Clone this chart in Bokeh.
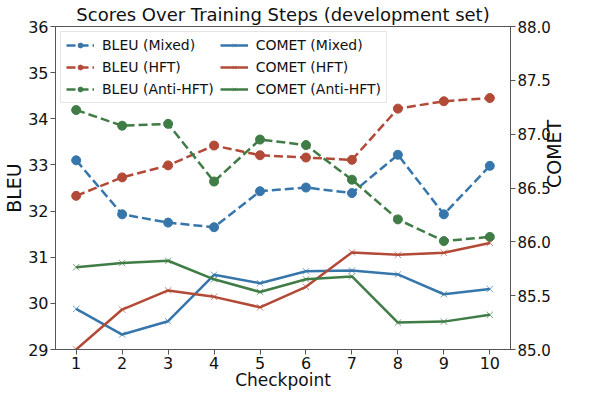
import math
from bokeh.plotting import figure
from bokeh.models import LinearAxis, Range1d, FixedTicker, NumeralTickFormatter, Legend, LegendItem
from bokeh.embed import file_html
from bokeh.resources import INLINE

checkpoints = [1, 2, 3, 4, 5, 6, 7, 8, 9, 10]

bleu_mixed = [33.10, 31.93, 31.75, 31.65, 32.43, 32.51, 32.39, 33.22, 31.93, 32.98]
bleu_hft = [32.33, 32.73, 32.99, 33.42, 33.21, 33.16, 33.11, 34.22, 34.38, 34.45]
bleu_anti = [34.19, 33.85, 33.89, 32.64, 33.55, 33.43, 32.68, 31.82, 31.35, 31.44]

comet_mixed = [85.377, 85.139, 85.263, 85.694, 85.616, 85.727, 85.733, 85.697, 85.513, 85.562]
comet_hft = [85.000, 85.371, 85.549, 85.489, 85.392, 85.582, 85.902, 85.879, 85.899, 85.990]
comet_anti = [85.764, 85.803, 85.824, 85.652, 85.534, 85.652, 85.679, 85.250, 85.259, 85.322]

bleu_ticks = [29, 30, 31, 32, 33, 34, 35, 36]
comet_ticks = [85.0, 85.5, 86.0, 86.5, 87.0, 87.5, 88.0]

blue = "#3776ab"
red = "#b24a37"
green = "#3f7c46"
axis_col = "#555555"
font = "DejaVu Sans"

p = figure(width=578, height=392, output_backend="svg", toolbar_location=None,
           x_range=Range1d(0.55, 10.45), y_range=Range1d(29, 36),
           title="Scores Over Training Steps (development set)",
           min_border_left=0, min_border_right=0, min_border_top=0, min_border_bottom=0)
p.extra_y_ranges = {"comet": Range1d(85, 88)}

p.title.align = "center"
p.title.text_font = font
p.title.text_font_size = "18px"
p.title.text_font_style = "normal"
p.title.text_color = "#111111"
p.title.standoff = 3

p.xgrid.visible = False
p.ygrid.visible = False
p.outline_line_color = axis_col
p.outline_line_width = 1

right = LinearAxis(y_range_name="comet", axis_label="COMET")
p.add_layout(right, "right")

for ax in [p.xaxis[0], p.yaxis[0], right]:
    ax.axis_line_color = axis_col
    ax.major_tick_line_color = axis_col
    ax.major_tick_out = 5
    ax.major_tick_in = 0
    ax.minor_tick_line_color = None
    ax.major_label_text_font = font
    ax.major_label_text_font_size = "16px"
    ax.major_label_text_color = "#111111"
    ax.axis_label_text_font = font
    ax.axis_label_text_font_size = "19px"
    ax.axis_label_text_font_style = "normal"
    ax.axis_label_text_color = "#111111"
    ax.major_label_standoff = 2
    ax.axis_label_standoff = 0

p.xaxis.axis_label = "Checkpoint"
p.xaxis.axis_label_text_font_size = "17px"
p.xaxis.axis_label_standoff = -2
p.xaxis.ticker = FixedTicker(ticks=checkpoints)
p.yaxis[0].axis_label = "BLEU"
p.yaxis[0].ticker = FixedTicker(ticks=bleu_ticks)
right.ticker = FixedTicker(ticks=comet_ticks)
right.formatter = NumeralTickFormatter(format="0.0")
right.major_label_text_font_size = "15px"
right.axis_label_orientation = math.pi / 2

items = []
for name, vals, col in [("Mixed", bleu_mixed, blue), ("HFT", bleu_hft, red), ("Anti-HFT", bleu_anti, green)]:
    l = p.line(checkpoints, vals, line_color=col, line_width=2.5, line_dash="9 4")
    s = p.scatter(checkpoints, vals, marker="circle", size=9, fill_color=col, line_color=col)
    items.append(LegendItem(label="BLEU (%s)" % name, renderers=[l, s]))
for name, vals, col in [("Mixed", comet_mixed, blue), ("HFT", comet_hft, red), ("Anti-HFT", comet_anti, green)]:
    l = p.line(checkpoints, vals, line_color=col, line_width=2.5, y_range_name="comet")
    s = p.scatter(checkpoints, vals, marker="x", size=9, line_color=col, line_alpha=0.7,
                  line_width=1, y_range_name="comet")
    items.append(LegendItem(label="COMET (%s)" % name, renderers=[l, s]))

legend = Legend(items=items, location="top_left", ncols=2)
legend.margin = 5
legend.padding = 5
legend.spacing = 6
legend.label_text_font = font
legend.label_text_font_size = "14px"
legend.label_text_color = "#111111"
legend.label_height = 12
legend.glyph_height = 12
legend.glyph_width = 28
legend.label_standoff = 8
legend.border_line_color = "#cccccc"
legend.border_line_width = 1
legend.background_fill_alpha = 0.8
p.add_layout(legend)

open("out.html", "w").write(file_html(p, INLINE))
